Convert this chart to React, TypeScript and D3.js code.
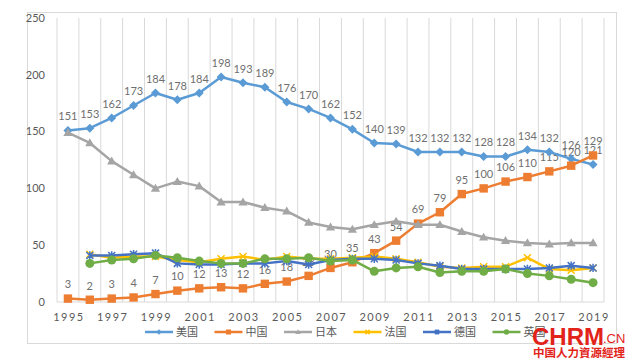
import React from 'react';
import * as d3 from 'd3';

// categories (x axis)
const years = ['1995', '1996', '1997', '1998', '1999', '2000', '2001', '2002', '2003', '2004', '2005', '2006', '2007',
  '2008', '2009', '2010', '2011', '2012', '2013', '2014', '2015', '2016', '2017', '2018', '2019'];

// series values
const usValues = [151, 153, 162, 173, 184, 178, 184, 198, 193, 189, 176, 170, 162, 152, 140, 139, 132, 132, 132, 128, 128, 134, 132, 126, 121];
const chinaValues = [3, 2, 3, 4, 7, 10, 12, 13, 12, 16, 18, 23, 30, 35, 43, 54, 69, 79, 95, 100, 106, 110, 115, 120, 129];
const japanValues = [149, 140, 124, 112, 100, 106, 102, 88, 88, 83, 80, 70, 66, 64, 68, 71, 68, 68, 62, 57, 54, 52, 51, 52, 52];
const franceValues = [null, 42, 39, 40, 40, 37, 35, 38, 40, 37, 40, 38, 38, 39, 40, 38, 35, 31, 30, 31, 31, 39, 29, 28, 30];
const germanyValues = [null, 41, 41, 42, 43, 34, 33, 33, 34, 34, 36, 33, 37, 38, 38, 37, 34, 32, 29, 29, 29, 29, 30, 32, 30];
const ukValues = [null, 34, 37, 38, 41, 39, 36, 34, 34, 38, 38, 39, 36, 37, 27, 30, 31, 26, 27, 27, 29, 25, 23, 20, 17];

const yTicks = [0, 50, 100, 150, 200, 250];

type Series = { name: string; values: (number | null)[]; color: string; marker: string; labels: boolean };

const series: Series[] = [
  { name: '美国', values: usValues, color: '#5B9BD5', marker: 'diamond', labels: true },
  { name: '中国', values: chinaValues, color: '#ED7D31', marker: 'square', labels: true },
  { name: '日本', values: japanValues, color: '#A5A5A5', marker: 'triangle', labels: false },
  { name: '法国', values: franceValues, color: '#FFC000', marker: 'x', labels: false },
  { name: '德国', values: germanyValues, color: '#4472C4', marker: 'star', labels: false },
  { name: '英国', values: ukValues, color: '#70AD47', marker: 'circle', labels: false },
];

const LATIN = 'Lato, "Noto Sans", sans-serif';
const CJK = '"Noto Sans CJK SC", sans-serif';

// draws one marker centered at (x, y)
const Marker = ({ type, x, y, color, s }: { type: string; x: number; y: number; color: string; s: number }) => {
  if (type === 'diamond') {
    return <path d={`M${x},${y - s}L${x + s},${y}L${x},${y + s}L${x - s},${y}Z`} fill={color} />;
  }
  if (type === 'square') {
    return <rect x={x - s} y={y - s} width={2 * s} height={2 * s} fill={color} />;
  }
  if (type === 'triangle') {
    return <path d={`M${x},${y - s * 1.1}L${x + s * 1.1},${y + s * 0.8}L${x - s * 1.1},${y + s * 0.8}Z`} fill={color} />;
  }
  if (type === 'circle') {
    return <circle cx={x} cy={y} r={s} fill={color} />;
  }
  if (type === 'x') {
    return <path d={`M${x - s},${y - s}L${x + s},${y + s}M${x - s},${y + s}L${x + s},${y - s}`} stroke={color} strokeWidth={1.5} />;
  }
  // star / asterisk
  return (
    <path d={`M${x - s},${y - s}L${x + s},${y + s}M${x - s},${y + s}L${x + s},${y - s}M${x},${y - s * 1.2}L${x},${y + s * 1.2}`}
      stroke={color} strokeWidth={1.5} />
  );
};

const App = () => {
  const width = 640;
  const height = 360;

  // plot area
  const left = 57;
  const right = 604;
  const top = 18;
  const bottom = 302;

  const x = d3.scaleBand().domain(years).range([left, right]).padding(0);
  const y = d3.scaleLinear().domain([0, 250]).range([bottom, top]);
  const cx = (yr: string) => (x(yr) as number) + x.bandwidth() / 2;

  const line = d3.line<{ yr: string; v: number | null }>()
    .defined(d => d.v !== null)
    .x(d => cx(d.yr))
    .y(d => y(d.v as number));

  const gridXs = [...years.map(yr => x(yr) as number), right];

  const markerSize: Record<string, number> = { diamond: 4.5, square: 4.2, triangle: 4.2, circle: 4.5, x: 3.5, star: 3.5 };

  return (
    <svg width={width} height={height} style={{ position: 'absolute', left: 0, top: 0, background: '#fff' }}>
      {/* chart area border */}
      <rect x={27.5} y={12.5} width={589} height={331} fill="#fff" stroke="#D9D9D9" />

      {/* vertical gridlines */}
      {gridXs.map((gx, i) => (
        <line key={i} x1={gx} x2={gx} y1={top} y2={bottom} stroke="#D9D9D9" strokeWidth={1} />
      ))}
      <line x1={left} x2={right} y1={bottom} y2={bottom} stroke="#D9D9D9" />

      {/* y axis labels */}
      {yTicks.map(t => (
        <text key={t} x={45} y={y(t)} dy="0.35em" textAnchor="end" fontFamily={LATIN} fontSize={11} fill="#595959">{t}</text>
      ))}

      {/* x axis labels, every other year */}
      {years.filter((_, i) => i % 2 === 0).map(yr => (
        <text key={yr} x={cx(yr) + 1} y={317} dy="0.35em" textAnchor="middle" fontFamily={LATIN} fontSize={11}
          letterSpacing={1.5} fill="#595959">{yr}</text>
      ))}

      {/* data labels (drawn under the lines) */}
      {series.filter(s => s.labels).map(s => (
        <g key={s.name + '-labels'}>
          {s.values.map((v, i) => v === null ? null : (
            <text key={i} x={cx(years[i])} y={y(v) - 14} dy="0.35em" textAnchor="middle" fontFamily={LATIN}
              fontSize={11} fill="#6f6f6f">{v}</text>
          ))}
        </g>
      ))}

      {/* lines and markers */}
      {series.map(s => {
        const pts = s.values.map((v, i) => ({ yr: years[i], v }));
        return (
          <g key={s.name}>
            <path d={line(pts) || ''} fill="none" stroke={s.color} strokeWidth={2.5} strokeLinejoin="round" />
            {pts.map((p, i) => p.v === null ? null : (
              <Marker key={i} type={s.marker} x={cx(p.yr)} y={y(p.v)} color={s.color} s={markerSize[s.marker]} />
            ))}
          </g>
        );
      })}

      {/* legend */}
      {series.map((s, i) => {
        const lx = 145 + i * 69.5;
        const ly = 332;
        return (
          <g key={s.name + '-legend'}>
            <line x1={lx} x2={lx + 28} y1={ly} y2={ly} stroke={s.color} strokeWidth={2.5} />
            <Marker type={s.marker} x={lx + 14} y={ly} color={s.color} s={markerSize[s.marker] * 0.6} />
            <text x={lx + 31} y={ly} dy="0.35em" fontFamily={CJK} fontSize={11} fill="#595959">{s.name}</text>
          </g>
        );
      })}

      {/* watermark */}
      <text x={532} y={345} fontFamily='"Liberation Sans", Arial, sans-serif' fontWeight="bold" fontSize={24} fill="#E2231A">CHRM</text>
      <text x={603} y={343} fontFamily='"Liberation Sans", Arial, sans-serif' fontSize={13} fill="#E2231A">.CN</text>
      <text x={533} y={357} fontFamily={CJK} fontWeight="bold" fontSize={11.5} fill="#E2231A">中国人力資源經理</text>
    </svg>
  );
};

export default App;
